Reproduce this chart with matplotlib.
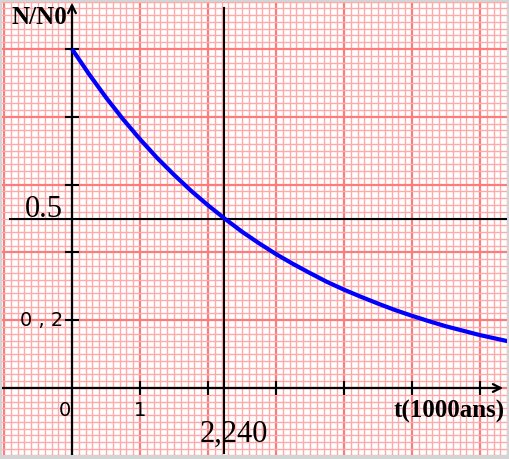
import numpy as np
import matplotlib
matplotlib.use("Agg")
import matplotlib.pyplot as plt
from matplotlib.patches import Rectangle

t_vals = [0, 0.25, 0.5, 0.75, 1.0, 1.25, 1.5, 1.75, 2.0, 2.25, 2.5, 2.75, 3.0,
          3.25, 3.5, 3.75, 4.0, 4.25, 4.5, 4.75, 5.0, 5.25, 5.5, 5.75, 6.0,
          6.25, 6.5]
ratio = [1.000, 0.926, 0.857, 0.793, 0.734, 0.679, 0.629, 0.582, 0.539, 0.499,
         0.461, 0.427, 0.395, 0.366, 0.339, 0.313, 0.290, 0.269, 0.249, 0.230,
         0.213, 0.197, 0.182, 0.169, 0.156, 0.145, 0.134]
half_life = 2.24
half_ratio = 0.5
x_ticks = [1, 2, 3, 4, 5, 6]
y_ticks = [0.2, 0.4, 0.6, 0.8, 1.0]

fig = plt.figure(figsize=(5.10, 4.59), dpi=100)
ax = fig.add_axes([0, 0, 1, 1])
x0, x1 = -72 / 68, 438 / 68
y0, y1 = -71 / 339, 388 / 339
ax.set_xlim(x0, x1)
ax.set_ylim(y0, y1)
ax.axis("off")

# graph paper
for v in np.arange(-1.0, 6.5, 0.1):
    major = abs(v - round(v)) < 1e-6
    ax.axvline(v, color="#ff7a7a" if major else "#ffaaaa",
               lw=1.6 if major else 1.0, zorder=1)
for v in np.arange(-0.2, 1.15, 0.02):
    major = abs(v / 0.2 - round(v / 0.2)) < 1e-6
    ax.axhline(v, color="#ff7a7a" if major else "#ffaaaa",
               lw=1.6 if major else 1.0, zorder=1)

# axes with arrows
ax.annotate("", xy=(6.34, 0), xytext=(x0, 0),
            arrowprops=dict(arrowstyle="->", lw=1.6, color="black",
                            shrinkA=0, shrinkB=0, mutation_scale=14), zorder=3)
ax.annotate("", xy=(0, 1.136), xytext=(0, y0),
            arrowprops=dict(arrowstyle="->", lw=1.6, color="black",
                            shrinkA=0, shrinkB=0, mutation_scale=14), zorder=3)
for xt in x_ticks:
    ax.plot([xt, xt], [-0.019, 0.019], color="black", lw=1.5, zorder=3)
for yt in y_ticks:
    ax.plot([-0.088, 0.088], [yt, yt], color="black", lw=1.5, zorder=3)

# half-life construction lines
ax.plot([half_life, half_life], [-0.192, 1.121], color="black", lw=1.5, zorder=3)
ax.plot([-0.91, 6.41], [half_ratio, half_ratio], color="black", lw=1.5, zorder=3)

# decay curve
ax.plot(t_vals, ratio, color="#0000ff", lw=3.0, zorder=4,
        solid_capstyle="butt")

serif = "Liberation Serif"
ax.text(-0.89, 1.074, "N/N0", family=serif, weight="bold", fontsize=18,
        va="baseline", ha="left", zorder=5)
ax.text(6.37, -0.0885, "t(1000ans)", family=serif, weight="bold", fontsize=18,
        va="baseline", ha="right", zorder=5)
ax.text(-0.70, 0.504, "0.5", family=serif, fontsize=22, va="baseline",
        ha="left", zorder=5)
ax.text(1.88, -0.159, "2,240", family=serif, fontsize=22, va="baseline",
        ha="left", zorder=5)
ax.text(-0.13, 0.2, "0 , 2", family="DejaVu Sans", fontsize=14, va="center",
        ha="right", zorder=5)
ax.text(-0.10, -0.065, "0", family="DejaVu Sans", fontsize=14, va="center",
        ha="center", zorder=5)
ax.text(1.0, -0.065, "1", family="DejaVu Sans", fontsize=14, va="center",
        ha="center", zorder=5)

# light grey frame around the paper
gray = "#d4d4d4"
W, H = 510, 459
for (x, y, w, h) in [(0, 0, 2 / W, 1), (1 - 3 / W, 0, 3 / W, 1),
                     (0, 1 - 2 / H, 1, 2 / H), (0, 0, 1, 4 / H)]:
    fig.patches.append(Rectangle((x, y), w, h, transform=fig.transFigure,
                                 facecolor=gray, edgecolor="none", zorder=10))

fig.savefig("out.png", dpi=100)
